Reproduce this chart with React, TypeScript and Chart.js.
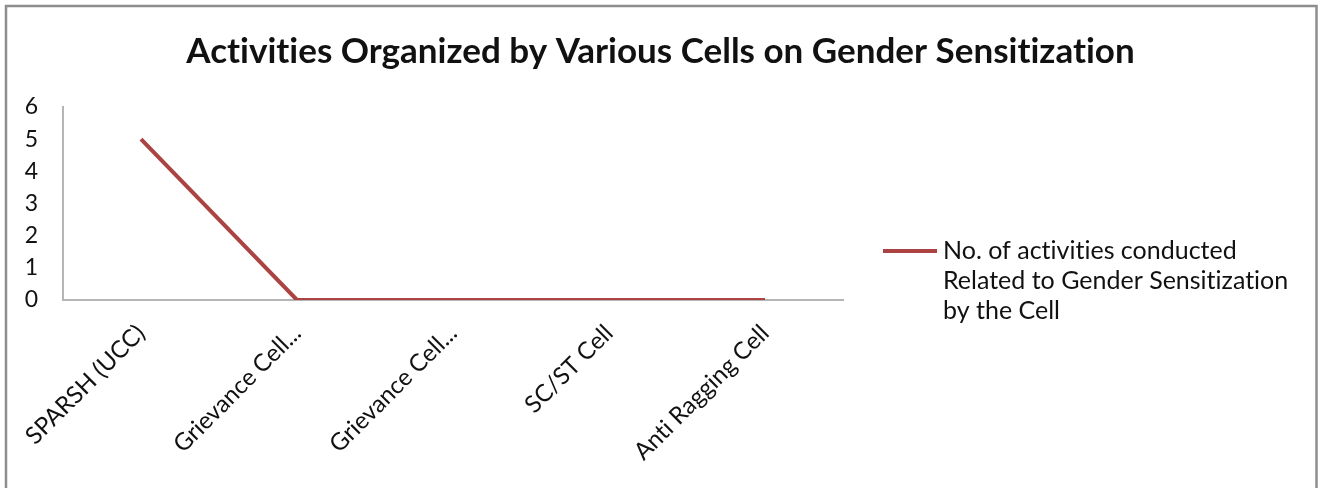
import React, { useEffect, useRef } from "react";
import { Chart, registerables, layouts } from "chart.js";

Chart.register(...registerables);

const TITLE = "Activities Organized by Various Cells on Gender Sensitization";
const CATEGORIES = [
  "SPARSH (UCC)",
  "Grievance Cell...",
  "Grievance Cell...",
  "SC/ST Cell",
  "Anti Ragging Cell",
];
const SERIES_LABEL =
  "No. of activities conducted Related to Gender Sensitization by the Cell";
const SERIES_VALUES = [5, 0, 0, 0, 0];
const Y_MIN = 0;
const Y_MAX = 6;
const Y_STEP = 1;

const FONT = "Lato, 'Open Sans', sans-serif";
const LINE_COLOR = "#AA4341";
const AXIS_COLOR = "#b5b5b5";
const TEXT_COLOR = "#111111";
const LEGEND_WIDTH = 478;

const framePlugin = {
  id: "frame",
  beforeDraw(chart: any) {
    const { ctx, width, height } = chart;
    try {
      (ctx as any).textRendering = "optimizeSpeed";
    } catch (e) {}
    ctx.save();
    ctx.fillStyle = "#ffffff";
    ctx.fillRect(0, 0, width, height);
    ctx.strokeStyle = "#8e8e8e";
    ctx.lineWidth = 2.5;
    ctx.beginPath();
    ctx.moveTo(6, height + 10);
    ctx.lineTo(6, 6);
    ctx.lineTo(width - 4.5, 6);
    ctx.lineTo(width - 4.5, height + 10);
    ctx.stroke();
    ctx.restore();
  },
};

const legendPlugin = {
  id: "wrapLegend",
  beforeInit(chart: any) {
    const box: any = {
      position: "right",
      weight: 1000,
      fullSize: false,
      options: {},
      left: 0,
      top: 0,
      right: 0,
      bottom: 0,
      width: 0,
      height: 0,
      isHorizontal() {
        return false;
      },
      update(_maxWidth: number, maxHeight: number) {
        this.width = LEGEND_WIDTH;
        this.height = maxHeight;
      },
      draw() {},
    };
    layouts.addBox(chart, box);
  },
  afterDraw(chart: any) {
    const { ctx, chartArea } = chart;
    const ds = chart.data.datasets[0];
    ctx.save();
    ctx.font = `25px ${FONT}`;
    const maxW = 365;
    const words = String(ds.label).split(" ");
    const lines: string[] = [];
    let cur = "";
    for (const w of words) {
      const test = cur ? cur + " " + w : w;
      if (cur && ctx.measureText(test).width > maxW) {
        lines.push(cur);
        cur = w;
      } else {
        cur = test;
      }
    }
    if (cur) lines.push(cur);
    const markerX0 = chartArea.right + 40;
    const markerX1 = markerX0 + 54;
    const textX = markerX1 + 6;
    const firstBaseline = 259;
    const lineH = 30;
    ctx.strokeStyle = ds.borderColor;
    ctx.lineWidth = 4;
    ctx.beginPath();
    ctx.moveTo(markerX0, firstBaseline - 8);
    ctx.lineTo(markerX1, firstBaseline - 8);
    ctx.stroke();
    ctx.fillStyle = TEXT_COLOR;
    ctx.textAlign = "left";
    ctx.textBaseline = "alphabetic";
    lines.forEach((l, i) => ctx.fillText(l, textX, firstBaseline + i * lineH));
    ctx.restore();
  },
};

export default function App() {
  const ref = useRef<HTMLCanvasElement | null>(null);

  useEffect(() => {
    if (!ref.current) return;
    const chart = new Chart(ref.current, {
      type: "line",
      data: {
        labels: CATEGORIES,
        datasets: [
          {
            label: SERIES_LABEL,
            data: SERIES_VALUES,
            borderColor: LINE_COLOR,
            backgroundColor: LINE_COLOR,
            borderWidth: 4,
            pointRadius: 0,
            pointHoverRadius: 0,
            tension: 0,
            fill: false,
          },
        ],
      },
      options: {
        responsive: false,
        animation: false,
        layout: { padding: 0 },
        plugins: {
          legend: { display: false },
          tooltip: { enabled: false },
          title: {
            display: true,
            text: TITLE,
            color: TEXT_COLOR,
            font: { family: FONT, size: 35, weight: "bold" },
            padding: { top: 31, bottom: 34 },
          },
        },
        scales: {
          x: {
            type: "category",
            offset: true,
            grid: { display: false, drawTicks: false },
            border: { display: true, color: AXIS_COLOR, width: 2 },
            ticks: {
              autoSkip: false,
              maxRotation: 45,
              minRotation: 45,
              padding: 19,
              labelOffset: 0,
              color: TEXT_COLOR,
              font: { family: FONT, size: 24 },
            },
            afterFit(scale: any) {
              scale.height = 188;
            },
          },
          y: {
            min: Y_MIN,
            max: Y_MAX,
            grid: { display: false, drawTicks: false },
            border: { display: true, color: AXIS_COLOR, width: 2 },
            ticks: {
              stepSize: Y_STEP,
              padding: 25,
              color: TEXT_COLOR,
              font: { family: FONT, size: 23 },
            },
            afterFit(scale: any) {
              scale.width = 63;
            },
          },
        },
      },
      plugins: [framePlugin, legendPlugin],
    });
    return () => chart.destroy();
  }, []);

  return (
    <div style={{ position: "fixed", left: 0, top: 0, width: 1321, height: 488 }}>
      <canvas ref={ref} width={1321} height={488} style={{ display: "block" }} />
    </div>
  );
}
